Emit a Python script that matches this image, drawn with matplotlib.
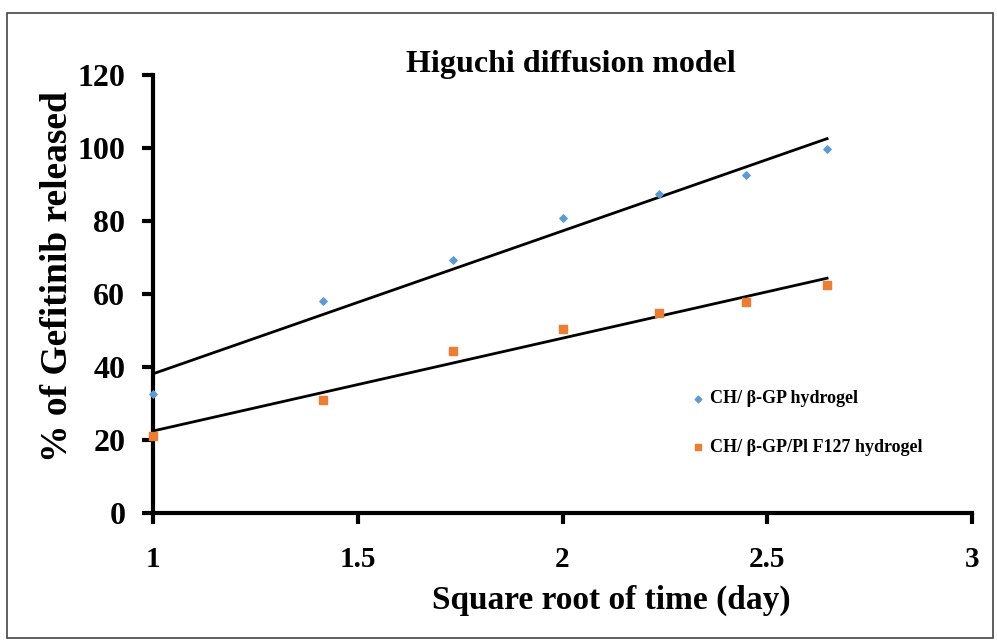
import numpy as np
import matplotlib.pyplot as plt
from matplotlib.patches import Rectangle

# Square root of time (day) and % released
sqrt_time = [1.0, 1.414, 1.732, 2.0, 2.236, 2.449, 2.646]
ch_bgp = [32.6, 58.1, 69.3, 80.8, 87.4, 92.6, 99.7]
ch_bgp_pl = [21.1, 31.0, 44.4, 50.4, 54.8, 57.8, 62.5]

labels = ["CH/ \u03b2-GP hydrogel", "CH/ \u03b2-GP/Pl F127 hydrogel"]

plt.rcParams['font.family'] = ['Liberation Serif', 'DejaVu Serif']
plt.rcParams['font.weight'] = 'bold'

fig = plt.figure(figsize=(9.97, 6.41), dpi=100)
ax = fig.add_axes([0.1535, 0.1997, 0.8215, 0.6833])

# outer frame around the whole chart
fig.patches.append(Rectangle((0.007, 0.004), 0.989, 0.975, transform=fig.transFigure,
                             fill=False, edgecolor='#444444', linewidth=1.2))

x = np.array(sqrt_time)
ax.scatter(x, ch_bgp, marker='D', s=14, color='#5B9BD5', label=labels[0], zorder=3, clip_on=False)
ax.scatter(x, ch_bgp_pl, marker='s', s=26, color='#ED7D31', label=labels[1], zorder=3, clip_on=False)

# linear (Higuchi) fits
for y in (ch_bgp, ch_bgp_pl):
    k, b = np.polyfit(x, y, 1)
    ax.plot([x[0], x[-1]], [k * x[0] + b, k * x[-1] + b], color='black', linewidth=2, zorder=2)

ax.set_xlim(1, 3)
ax.set_ylim(0, 120)
ax.set_xticks([1, 1.5, 2, 2.5, 3])
ax.set_xticklabels(['1', '1.5', '2', '2.5', '3'])
ax.set_yticks(range(0, 121, 20))

for side in ('top', 'right'):
    ax.spines[side].set_visible(False)
for side in ('left', 'bottom'):
    ax.spines[side].set_linewidth(3)

ax.tick_params(axis='both', direction='out', length=8, width=3)
ax.tick_params(axis='x', labelsize=21, pad=16)
ax.tick_params(axis='y', labelsize=23, pad=12)

# axis titles placed like the original (slightly off-centre)
fig.text(0.613, 0.064, "Square root of time (day)", ha='center', va='center',
         fontsize=24, fontweight='bold')
fig.text(0.058, 0.568, "% of Gefitinib released", ha='center', va='center',
         rotation=90, fontsize=27, fontweight='bold')
fig.text(0.573, 0.9, "Higuchi diffusion model", ha='center', va='center',
         fontsize=23, fontweight='bold')

ax.legend(loc='center left', bbox_to_anchor=(0.656, 0.205), frameon=False,
          prop={'size': 13, 'weight': 'bold'}, handletextpad=0.3, handlelength=0.8,
          borderpad=0, borderaxespad=0, labelspacing=1.75, markerscale=0.9)

fig.savefig('out.png', dpi=100)
